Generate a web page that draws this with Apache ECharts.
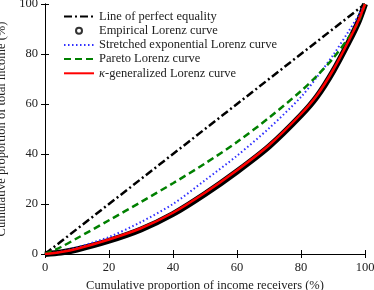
<!DOCTYPE html>
<html>
<head>
<meta charset="utf-8">
<script src="https://cdn.jsdelivr.net/npm/echarts@6/dist/echarts.min.js"></script>
<style>html,body{margin:0;padding:0;background:#fff}#c{width:374px;height:290px}</style>
</head>
<body>
<div id="c"></div>
<script>
// Cumulative proportion of income receivers (%)
var receivers   = [0, 5,   10,  20,   30,   40,   50,   60,   70,   80,   85,   90,   95,   98,   100];
var equality    = [0, 5,   10,  20,   30,   40,   50,   60,   70,   80,   85,   90,   95,   98,   100];
var empirical   = [0, 0.6, 1.8, 5.3,  9.8,  16.0, 24.0, 33.0, 43.0, 55.5, 63.0, 73.0, 85.0, 93.0, 100];
var stretchedExp= [0, 0.9, 2.6, 6.8,  12.8, 20.0, 29.5, 39.3, 50.3, 62.8, 70.8, 79.5, 89.3, 95.5, 100];
var pareto      = [0, 2.8, 6.3, 13.5, 20.8, 28.3, 36.2, 44.8, 54.5, 65.2, 71.3, 78.2, 86.8, 93.0, 100];
var kappaGen    = [0, 0.8, 2.1, 5.8,  10.3, 16.5, 24.5, 33.5, 43.5, 56.0, 63.5, 73.5, 85.5, 93.5, 100];
var ticks = [0, 20, 40, 60, 80, 100];

var names = ['Line of perfect equality', 'Empirical Lorenz curve', 'Stretched exponential Lorenz curve', 'Pareto Lorenz curve', 'κ-generalized Lorenz curve'];

function pairs(ys) { return receivers.map(function (x, i) { return [x, ys[i]]; }); }

var FONT = 'Liberation Serif';
var FS = 12.5;
var chart = echarts.init(document.getElementById('c'), null, {renderer: 'canvas'});

function axisCommon(showLabels) {
  return {
    type: 'value', min: ticks[0], max: ticks[ticks.length - 1], interval: ticks[1] - ticks[0],
    axisLine: {show: true, lineStyle: {color: '#000', width: 1}},
    axisTick: {show: true, inside: true, length: 4, lineStyle: {color: '#000', width: 1}},
    axisLabel: {show: showLabels, color: '#222', fontFamily: FONT, fontSize: FS, margin: 7},
    splitLine: {show: false}
  };
}

var xBottom = axisCommon(true);
xBottom.position = 'bottom';
xBottom.name = 'Cumulative proportion of income receivers (%)';
xBottom.nameLocation = 'middle';
xBottom.nameGap = 21;
xBottom.nameTextStyle = {color: '#222', fontFamily: FONT, fontSize: FS};
var xTop = axisCommon(false); xTop.position = 'top';
var yLeft = axisCommon(true);
yLeft.position = 'left';
yLeft.name = 'Cumulative proportion of total income (%)';
yLeft.nameLocation = 'middle';
yLeft.nameGap = 27;
yLeft.nameTextStyle = {color: '#222', fontFamily: FONT, fontSize: FS};
var yRight = axisCommon(false); yRight.position = 'right';

chart.setOption({
  animation: false,
  backgroundColor: '#fff',
  grid: {left: 45, right: 9, top: 4, bottom: 36, containLabel: false, outerBoundsMode: 'none'},
  xAxis: [xBottom, xTop],
  yAxis: [yLeft, yRight],
  legend: {
    left: 58, top: 5, orient: 'vertical', itemWidth: 30, itemHeight: 6, itemGap: 1.2,
    itemStyle: {opacity: 0},
    textStyle: {color: '#222', fontFamily: FONT, fontSize: FS,
      rich: {i: {fontStyle: 'italic', fontFamily: FONT, fontSize: FS, color: '#222'}}},
    formatter: function (n) { return n.charAt(0) === 'κ' ? '{i|κ}' + n.slice(1) : n; },
    data: [
      {name: names[0]},
      {name: names[1], icon: 'emptyCircle', itemStyle: {opacity: 1, color: '#333', borderColor: '#333', borderWidth: 0.6}},
      {name: names[2]},
      {name: names[3]},
      {name: names[4]}
    ]
  },
  series: [
    {name: names[0], type: 'line', data: pairs(equality), symbol: 'none', z: 2,
     lineStyle: {color: '#000', width: 2.5, type: [8, 3, 2, 3]}, itemStyle: {color: '#000'}},
    {name: names[1], type: 'line', data: pairs(empirical), symbol: 'none', smooth: 0.3, z: 3,
     lineStyle: {color: '#000', width: 6}, itemStyle: {color: '#000'}},
    {name: names[2], type: 'line', data: pairs(stretchedExp), symbol: 'none', smooth: 0.3, z: 4,
     lineStyle: {color: '#3030ff', width: 2, type: [1.5, 2.5]}, itemStyle: {color: '#3030ff'}},
    {name: names[3], type: 'line', data: pairs(pareto), symbol: 'none', smooth: 0.3, z: 4,
     lineStyle: {color: '#008000', width: 2.5, type: [7, 4]}, itemStyle: {color: '#008000'}},
    {name: names[4], type: 'line', data: pairs(kappaGen), symbol: 'none', smooth: 0.3, z: 5,
     lineStyle: {color: '#ff0000', width: 2.5}, itemStyle: {color: '#ff0000'}}
  ]
});
</script>
</body>
</html>
